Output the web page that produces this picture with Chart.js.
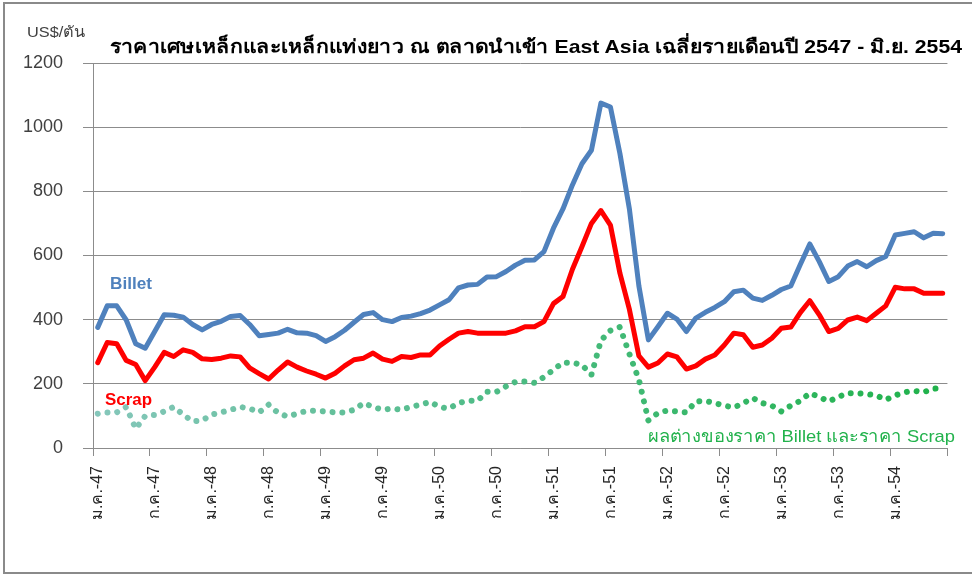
<!DOCTYPE html>
<html>
<head>
<meta charset="utf-8">
<script src="https://cdn.jsdelivr.net/npm/chart.js@4.4.1/dist/chart.umd.min.js"></script>
<style>
  html, body { margin: 0; padding: 0; width: 972px; height: 579px; overflow: hidden; background: #fff; }
  #wrap { position: relative; width: 972px; height: 579px; }
  #frame { position: absolute; left: 3px; top: 2px; width: 990px; height: 572px; border: 2px solid #8a8a8a; box-sizing: border-box; pointer-events: none; }
  canvas { position: absolute; left: 0; top: 0; }
  .txt { position: absolute; white-space: nowrap; font-family: 'Liberation Sans', Arial, 'Noto Sans', sans-serif; line-height: 1; transform-origin: 0 50%; }
  #title { left: 110px; top: 37px; font-size: 19px; font-weight: bold; color: #000; }
  #unit { left: 27px; top: 24px; font-size: 15px; color: #404040; }
  #lblBillet { left: 110px; top: 276px; font-size: 16px; font-weight: bold; color: #4f81bd; }
  #lblScrap { left: 105px; top: 392px; font-size: 16px; font-weight: bold; color: #ff0000; }
  #lblDiff { left: 648px; top: 428px; font-size: 17px; color: #22b24c; }
</style>
</head>
<body>
<div id="wrap">
  <canvas id="c" width="972" height="579"></canvas>
  <div id="frame"></div>
  <div class="txt" id="unit" data-w="58">US$/ตัน</div>
  <div class="txt" id="title" data-w="852">ราคาเศษเหล็กและเหล็กแท่งยาว ณ ตลาดนำเข้า East Asia เฉลี่ยรายเดือนปี 2547 - มิ.ย. 2554</div>
  <div class="txt" id="lblBillet" data-w="42">Billet</div>
  <div class="txt" id="lblScrap" data-w="47">Scrap</div>
  <div class="txt" id="lblDiff" data-w="307">ผลต่างของราคา Billet และราคา Scrap</div>
</div>
<script>
// ---- data (US$/ton), monthly Jan 2004 (2547) - Jun 2011 (2554) ----
const monthNames = ['ม.ค.','ก.พ.','มี.ค.','เม.ย.','พ.ค.','มิ.ย.','ก.ค.','ส.ค.','ก.ย.','ต.ค.','พ.ย.','ธ.ค.'];
const years = ['47','48','49','50','51','52','53','54'];
const tickLabels = ['ม.ค.-47','ก.ค.-47','ม.ค.-48','ก.ค.-48','ม.ค.-49','ก.ค.-49','ม.ค.-50','ก.ค.-50',
                    'ม.ค.-51','ก.ค.-51','ม.ค.-52','ก.ค.-52','ม.ค.-53','ก.ค.-53','ม.ค.-54'];

const billet = [376,443,443,399,325,311,363,415,414,408,385,368,385,395,410,413,385,350,354,358,
                370,359,358,350,332,347,367,392,416,422,400,394,407,411,419,430,446,462,499,508,
                510,533,534,550,570,585,586,612,685,745,820,886,928,1075,1063,918,745,505,337,378,
                420,402,363,405,423,438,456,487,492,467,460,476,494,505,572,636,581,519,534,567,
                581,565,584,597,664,669,674,655,669,668];

const scrap = [266,329,325,273,260,210,252,298,285,306,298,278,276,280,287,284,250,232,215,243,
               268,252,240,230,218,233,256,275,280,296,277,270,285,282,290,290,318,339,358,363,
               358,358,358,358,365,378,378,394,450,472,557,627,700,740,695,545,432,287,252,265,
               293,284,246,256,277,290,321,358,353,314,321,342,373,377,422,459,415,363,373,399,
               408,397,420,443,501,496,496,482,482,482];

const spread = [107,111,111,128,60,100,103,114,128,104,83,86,104,111,119,128,123,111,135,109,
                98,107,116,116,114,111,111,119,140,128,119,123,119,128,135,144,128,123,140,147,
                147,175,175,192,206,207,203,221,244,266,266,259,228,335,366,377,293,213,86,109,
                117,114,111,145,147,140,132,126,140,156,140,132,114,132,147,171,159,145,159,171,
                171,168,164,150,164,174,178,174,185,186];

const yTicks = [0,200,400,600,800,1000,1200];

// category labels (one per month)
const categories = [];
for (let i = 0; i < billet.length; i++) {
  categories.push(monthNames[i % 12] + '-' + years[Math.floor(i / 12)]);
}

// fit annotation text widths to the reference
document.querySelectorAll('.txt[data-w]').forEach(el => {
  const target = parseFloat(el.dataset.w);
  const w = el.getBoundingClientRect().width;
  if (w > 0) el.style.transform = 'scaleX(' + (target / w).toFixed(4) + ')';
});

const GRID = '#8c8c8c';
const FONT = "'Liberation Sans', Arial, 'Noto Sans', sans-serif";

function spreadColor(ctx) {
  const chart = ctx.chart;
  const area = chart.chartArea;
  if (!area) return '#5cbf8f';
  const g = chart.ctx.createLinearGradient(area.left, 0, area.right, 0);
  g.addColorStop(0, '#86c7bb');
  g.addColorStop(0.45, '#50bc88');
  g.addColorStop(1, '#1fb24a');
  return g;
}

new Chart(document.getElementById('c'), {
  type: 'line',
  data: {
    labels: categories,
    datasets: [
      { label: 'Billet', data: billet, borderColor: '#4f81bd', borderWidth: 5, pointRadius: 0,
        tension: 0, borderJoinStyle: 'round', borderCapStyle: 'round', order: 2 },
      { label: 'Scrap', data: scrap, borderColor: '#ff0000', borderWidth: 5, pointRadius: 0,
        tension: 0, borderJoinStyle: 'round', borderCapStyle: 'round', order: 1 },
      { label: 'ผลต่างของราคา Billet และราคา Scrap', data: spread, borderColor: spreadColor,
        borderWidth: 6, pointRadius: 0, tension: 0, borderDash: [0.01, 9.8],
        borderCapStyle: 'round', borderJoinStyle: 'round', order: 3 }
    ]
  },
  options: {
    responsive: false,
    devicePixelRatio: 1,
    animation: false,
    layout: { padding: { left: 0, top: 63, right: 18, bottom: 0 } },
    plugins: { legend: { display: false }, tooltip: { enabled: false }, title: { display: false } },
    scales: {
      x: {
        type: 'category',
        offset: true,
        grid: {
          offset: true,
          drawOnChartArea: false,
          drawTicks: true,
          tickLength: 8,
          color: (ctx) => (ctx.index === undefined || ctx.index % 6 === 0) ? GRID : 'rgba(0,0,0,0)',
          lineWidth: 1
        },
        border: { display: true, color: GRID, width: 1 },
        ticks: {
          autoSkip: false,
          maxRotation: 90,
          minRotation: 90,
          padding: 10,
          color: '#262626',
          font: { family: FONT, size: 16 },
          callback: (v, i) => (i % 6 === 0 ? tickLabels[i / 6] : '')
        },
        afterFit: (s) => { s.height = 131; }
      },
      y: {
        min: 0,
        max: 1200,
        afterBuildTicks: (s) => { s.ticks = yTicks.map(v => ({ value: v })); },
        grid: { color: GRID, lineWidth: 1, drawTicks: true, tickLength: 10 },
        border: { display: true, color: GRID, width: 1 },
        ticks: {
          padding: 20,
          color: '#404040',
          font: { family: FONT, size: 18 },
          callback: (v) => String(v)
        },
        afterFit: (s) => { s.width = 93; }
      }
    }
  }
});
</script>
</body>
</html>
